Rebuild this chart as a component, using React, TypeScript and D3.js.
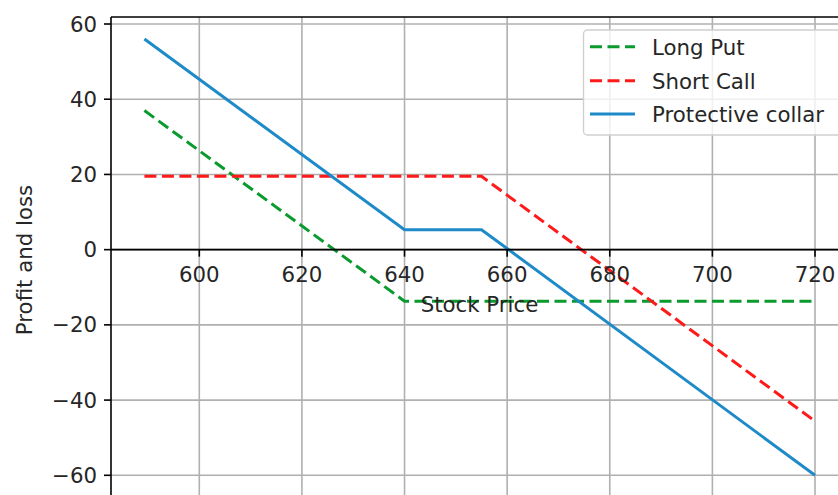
import React from "react";
import * as d3 from "d3";

const putPrices = [589.3, 640, 720];
const longPut = [37.0, -13.7, -13.7];
const callPrices = [589.3, 655, 720];
const shortCall = [19.5, 19.5, -45.6];
const collarPrices = [589.3, 640, 655, 720];
const collar = [56.0, 5.3, 5.3, -60.0];
const xTicks = [600, 620, 640, 660, 680, 700, 720];
const yTicks = [-60, -40, -20, 0, 20, 40, 60];
const legendLabels = ["Long Put", "Short Call", "Protective collar"];

const W = 838, H = 495;
const FONT = "DejaVu Sans";
const FS = 21.3;

export default function App() {
  const x = d3.scaleLinear().domain([600, 720]).range([199.3, 815]);
  const y = d3.scaleLinear().domain([-60, 60]).range([475.3, 24]);
  const left = 111, top = 17, right = 848, bottom = 497;
  const line = d3.line<[number, number]>().x(d => x(d[0])).y(d => y(d[1]));
  const mk = (xs: number[], ys: number[]) => xs.map((v, i) => [v, ys[i]] as [number, number]);
  const series = [
    { d: mk(putPrices, longPut), color: "#0a9a2e", dash: "12,5.5" },
    { d: mk(callPrices, shortCall), color: "#ff1a1a", dash: "12,5.5" },
    { d: mk(collarPrices, collar), color: "#1f8ac8", dash: null },
  ];
  const y0 = y(0);
  return (
    <svg width={W} height={H} style={{ position: "absolute", left: 0, top: 0, background: "#fff" }}
      fontFamily={FONT} fontSize={FS}>
      <rect x={0} y={0} width={W} height={H} fill="#fff" />
      {xTicks.map(t => (
        <line key={"gx" + t} x1={x(t)} x2={x(t)} y1={top} y2={bottom} stroke="#b0b0b0" strokeWidth={1.6} />
      ))}
      {yTicks.map(t => (
        <line key={"gy" + t} x1={left} x2={right} y1={y(t)} y2={y(t)} stroke="#b0b0b0" strokeWidth={1.6} />
      ))}
      {series.map((s, i) => (
        <path key={i} d={line(s.d) || ""} fill="none" stroke={s.color} strokeWidth={3}
          strokeDasharray={s.dash || undefined} />
      ))}
      <line x1={left} x2={left} y1={top} y2={bottom} stroke="#000" strokeWidth={1.6} />
      <line x1={left} x2={right} y1={top} y2={top} stroke="#000" strokeWidth={1.6} />
      <line x1={left} x2={right} y1={y0} y2={y0} stroke="#000" strokeWidth={1.6} />
      {xTicks.map(t => (
        <g key={"tx" + t}>
          <line x1={x(t)} x2={x(t)} y1={y0} y2={y0 + 7} stroke="#000" strokeWidth={1.6} />
          <text x={x(t)} y={282} textAnchor="middle" fill="#262626">{t}</text>
        </g>
      ))}
      {yTicks.map(t => (
        <g key={"ty" + t}>
          <line x1={left - 7} x2={left} y1={y(t)} y2={y(t)} stroke="#000" strokeWidth={1.6} />
          <text x={97} y={y(t) + 7.6} textAnchor="end" fill="#262626">{t < 0 ? "\u2212" + Math.abs(t) : t}</text>
        </g>
      ))}
      <text x={(left + right) / 2} y={312} textAnchor="middle" fill="#262626">Stock Price</text>
      <text transform={`translate(32, ${(top + bottom) / 2 + 3}) rotate(-90)`} textAnchor="middle" fill="#262626">Profit and loss</text>
      <rect x={583.5} y={30} width={260} height={105} rx={4} fill="#fff" fillOpacity={0.8} stroke="#d0d0d0" strokeWidth={1.4} />
      {legendLabels.map((l, i) => {
        const ly = [46.7, 80.7, 114][i];
        const s = series[i];
        return (
          <g key={l}>
            <line x1={590} x2={635} y1={ly} y2={ly} stroke={s.color} strokeWidth={3} strokeDasharray={s.dash || undefined} />
            <text x={652} y={ly + 8} fill="#262626">{l}</text>
          </g>
        );
      })}
    </svg>
  );
}
